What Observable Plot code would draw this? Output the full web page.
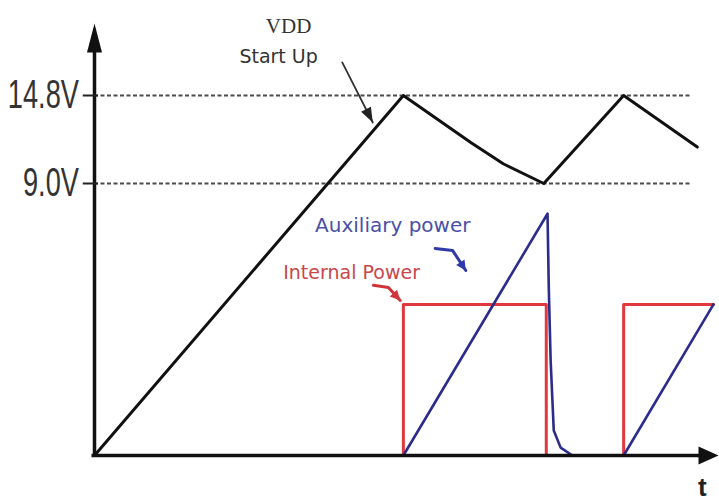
<!DOCTYPE html>
<html><head><meta charset="utf-8">
<script src="https://cdn.jsdelivr.net/npm/d3@7"></script>
<script src="https://cdn.jsdelivr.net/npm/@observablehq/plot@0.6"></script>
<style>body{margin:0;background:#fff}</style>
</head><body><div id="chart"></div>
<script>
// ---- data (schematic units: t arbitrary, volts piecewise) ----
const levels = [9.0, 14.8];
const levelLabels = ["9.0V", "14.8V"];

const vddT = [0, 49.5, 60.3, 65.5, 72.0, 84.8, 96.6];
const vddV = [0, 14.8, 11.7, 10.3, 9.0, 14.8, 11.4];

const intT = [49.5, 49.5, 72.4, 72.4, 84.8, 84.8, 99.2];
const intV = [0, 5, 5, 0, 0, 5, 5];

const auxSeg = [1, 1, 1, 1, 1, 1, 1, 2, 2];
const auxT = [49.5, 72.6, 72.8, 73.1, 73.6, 74.7, 76.6, 84.8, 99.2];
const auxV = [0, 8.0, 5.56, 3.14, 0.83, 0.26, 0, 0, 5];

const tMax = 100, vMax = 19.5, dashEnd = 95.5;

const noteText = ["VDD", "Start Up", "Auxiliary power", "Internal Power", "t"];
const noteT = [31.1, 29.5, 47.8, 41.2, 97.4];
const noteV = [19.35, 17.35, 7.62, 6.04, -1.05];

const startArrowT = [39.7, 44.6], startArrowV = [16.96, 13.02];
const auxArrowT = [54.6, 57.4, 59.5], auxArrowV = [6.85, 6.78, 6.12];
const intArrowT = [44.7, 47.1, 49.0], intArrowV = [5.63, 5.56, 5.13];

// ---- helpers ----
const pts = (T, V, Z) => T.map((t, i) => ({t, v: V[i], z: Z ? Z[i] : 0}));
function head(len, halfW, angleDeg) {
  const a = angleDeg * Math.PI / 180, c = Math.cos(a), s = Math.sin(a);
  const rot = ([x, y]) => [x * c - y * s, x * s + y * c];
  return {draw(ctx) {
    const p = [[0, 0], [-halfW, len], [halfW, len]].map(rot);
    ctx.moveTo(p[0][0], p[0][1]); ctx.lineTo(p[1][0], p[1][1]); ctx.lineTo(p[2][0], p[2][1]); ctx.closePath();
  }};
}
const last = (T, V) => [{t: T[T.length - 1], v: V[V.length - 1]}];

const black = "#111", red = "#e0383c", blue = "#2c2c8c";
const notes = noteText.map((text, i) => ({text, t: noteT[i], v: noteV[i]}));

const chart = Plot.plot({
  width: 719, height: 502,
  margin: 0,
  x: {type: "linear", domain: [0, tMax], range: [94, 718], axis: null},
  y: {type: "linear", domain: [0, 9, 14.8, vMax], range: [455, 183, 95, 23], axis: null},
  style: {background: "#fff", overflow: "visible"},
  marks: [
    // dashed reference levels
    Plot.ruleY(levels, {x1: 0, x2: dashEnd, stroke: "#4a4a4a", strokeWidth: 2, strokeDasharray: "4,2.5"}),
    // Internal power (red)
    Plot.line(pts(intT, intV), {x: "t", y: "v", stroke: red, strokeWidth: 3}),
    // Auxiliary power (blue)
    Plot.line(pts(auxT, auxV, auxSeg), {x: "t", y: "v", z: "z", stroke: blue, strokeWidth: 2.6}),
    // VDD (black)
    Plot.line(pts(vddT, vddV), {x: "t", y: "v", stroke: black, strokeWidth: 3}),
    // axes
    Plot.ruleX([0], {y1: 0, y2: vMax - 1, stroke: black, strokeWidth: 3.5}),
    Plot.ruleY([0], {x1: -0.4, x2: tMax - 1, stroke: black, strokeWidth: 3.5}),
    Plot.dot([{t: 0, v: vMax}], {x: "t", y: "v", symbol: head(29, 7.5, 0), fill: black, stroke: "none", r: 5}),
    Plot.dot([{t: tMax, v: 0}], {x: "t", y: "v", symbol: head(20, 9, 90), fill: black, stroke: "none", r: 5}),
    // tick marks and labels
    Plot.ruleY(levels, {x1: -1.8, x2: 0.6, stroke: "#222", strokeWidth: 2}),
    Plot.text(levels, {x: -2.5, y: d => d, text: (d, i) => levelLabels[i], textAnchor: "end",
      fontSize: 40, fontFamily: "Liberation Sans, Arial, sans-serif", fill: "#333", className: "ylab"}),
    // annotation arrows
    Plot.line(pts(startArrowT, startArrowV), {x: "t", y: "v", stroke: "#333", strokeWidth: 1.8}),
    Plot.dot(last(startArrowT, startArrowV), {x: "t", y: "v", symbol: head(15, 5.5, 153), fill: "#222", stroke: "none", r: 5}),
    Plot.line(pts(auxArrowT, auxArrowV), {x: "t", y: "v", stroke: "#2f3aa8", strokeWidth: 3}),
    Plot.dot(last(auxArrowT, auxArrowV), {x: "t", y: "v", symbol: head(10, 5, 147), fill: "#2f3aa8", stroke: "none", r: 5}),
    Plot.line(pts(intArrowT, intArrowV), {x: "t", y: "v", stroke: "#d0343a", strokeWidth: 3}),
    Plot.dot(last(intArrowT, intArrowV), {x: "t", y: "v", symbol: head(10, 5, 137), fill: "#d0343a", stroke: "none", r: 5}),
    // annotation texts
    Plot.text(notes.slice(0, 1), {x: "t", y: "v", text: "text", fontSize: 21, fontFamily: "Liberation Serif, Times New Roman, serif", fill: "#333"}),
    Plot.text(notes.slice(1, 2), {x: "t", y: "v", text: "text", fontSize: 19, fontFamily: "DejaVu Sans, Verdana, sans-serif", fill: "#333"}),
    Plot.text(notes.slice(2, 3), {x: "t", y: "v", text: "text", fontSize: 20, fontFamily: "DejaVu Sans, Verdana, sans-serif", fill: "#4a4fa6"}),
    Plot.text(notes.slice(3, 4), {x: "t", y: "v", text: "text", fontSize: 19, fontFamily: "DejaVu Sans, Verdana, sans-serif", fill: "#c8474b"}),
    Plot.text(notes.slice(4, 5), {x: "t", y: "v", text: "text", fontSize: 26, fontWeight: "bold", fontFamily: "Liberation Sans, Arial, sans-serif", fill: "#222"})
  ]
});

// condense the tall tick labels horizontally (narrow face in reference)
chart.querySelectorAll(".ylab text").forEach(t => {
  const x = +t.getAttribute("x") || 0;
  const prev = t.getAttribute("transform") || "";
  t.setAttribute("transform", `${prev} translate(${x},0) scale(0.68,1) translate(${-x},0)`);
});

document.getElementById("chart").appendChild(chart);
</script>
</body></html>
